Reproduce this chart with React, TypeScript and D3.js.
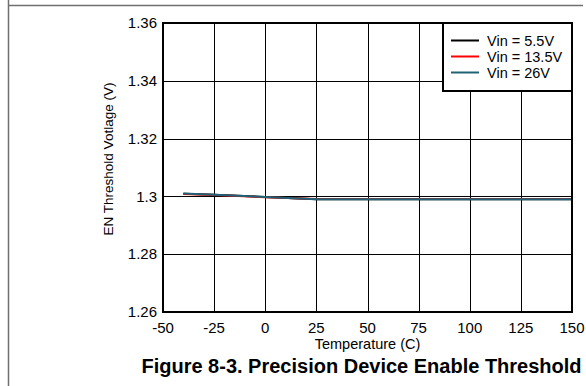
import React, {useEffect, useRef} from "react";
import * as d3 from "d3";

// temperature points (C)
const temps = [-40, -25, 0, 25, 50, 75, 100, 125, 150];
// EN threshold (V) for each input voltage
const vin55 = [1.3009, 1.3006, 1.2998, 1.2990, 1.2990, 1.2990, 1.2990, 1.2990, 1.2990];
const vin135 = [1.3008, 1.3005, 1.2997, 1.2991, 1.2991, 1.2991, 1.2991, 1.2991, 1.2991];
const vin26 = [1.3010, 1.3006, 1.2998, 1.2990, 1.2990, 1.2990, 1.2990, 1.2990, 1.2990];
const seriesNames = ["Vin = 5.5V", "Vin = 13.5V", "Vin = 26V"];
const seriesColors = ["#000000", "#ff0000", "#1f6275"];
const xTicks = [-50, -25, 0, 25, 50, 75, 100, 125, 150];
const yTicks = [1.26, 1.28, 1.3, 1.32, 1.34, 1.36];

export default function App() {
  const ref = useRef<SVGSVGElement>(null);
  const width = 586;
  const height = 386;
  const left = 163, right = 572, top = 23, bottom = 312;
  const font = "Liberation Sans, Arial, Helvetica, sans-serif";

  useEffect(() => {
    const svg = d3.select(ref.current);
    svg.selectAll("*").remove();

    const x = d3.scaleLinear().domain([-50, 150]).range([left, right]);
    const y = d3.scaleLinear().domain([1.26, 1.36]).range([bottom, top]);

    // page frame
    svg.append("line").attr("x1", 8.5).attr("x2", 8.5).attr("y1", 0).attr("y2", height)
      .attr("stroke", "#707070").attr("stroke-width", 1.5);
    svg.append("line").attr("x1", 8).attr("x2", 583).attr("y1", 5.5).attr("y2", 5.5)
      .attr("stroke", "#707070").attr("stroke-width", 1.5);

    // grid
    const grid = svg.append("g").attr("stroke", "#000").attr("stroke-width", 1);
    grid.selectAll(".gx").data(xTicks.slice(1, -1)).join("line")
      .attr("x1", d => Math.round(x(d)) + 0.5).attr("x2", d => Math.round(x(d)) + 0.5)
      .attr("y1", top).attr("y2", bottom);
    grid.selectAll(".gy").data(yTicks.slice(1, -1)).join("line")
      .attr("y1", d => Math.round(y(d)) + 0.5).attr("y2", d => Math.round(y(d)) + 0.5)
      .attr("x1", left).attr("x2", right);

    // lines
    const all = [vin55, vin135, vin26];
    const line = d3.line<number>()
      .x((d, i) => x(temps[i]))
      .y(d => y(d));
    svg.append("g").selectAll("path").data(all).join("path")
      .attr("d", d => line(d))
      .attr("fill", "none")
      .attr("stroke", (d, i) => seriesColors[i])
      .attr("stroke-width", 2);

    // legend
    const lgLeft = 443, lgBottom = 91;
    svg.append("rect").attr("x", lgLeft).attr("y", top).attr("width", right - lgLeft).attr("height", lgBottom - top)
      .attr("fill", "#fff").attr("stroke", "#000").attr("stroke-width", 2);
    const lg = svg.append("g").selectAll("g").data(seriesNames).join("g")
      .attr("transform", (d, i) => `translate(0,${40.5 + i * 16})`);
    lg.append("line").attr("x1", 451).attr("x2", 479).attr("y1", 0).attr("y2", 0)
      .attr("stroke", (d, i) => seriesColors[i]).attr("stroke-width", 2);
    lg.append("text").attr("x", 487).attr("dy", "0.35em")
      .attr("font-family", font).attr("font-size", 14.5).text(d => d);

    // plot border
    svg.append("rect").attr("x", left).attr("y", top).attr("width", right - left).attr("height", bottom - top)
      .attr("fill", "none").attr("stroke", "#000").attr("stroke-width", 2);

    // tick labels
    svg.append("g").selectAll("text").data(xTicks).join("text")
      .attr("x", d => x(d)).attr("y", 333)
      .attr("text-anchor", "middle")
      .attr("font-family", font).attr("font-size", 15)
      .text(d => d);
    svg.append("g").selectAll("text").data(yTicks).join("text")
      .attr("x", 157).attr("y", d => y(d)).attr("dy", "0.35em")
      .attr("text-anchor", "end")
      .attr("font-family", font).attr("font-size", 15)
      .text(d => d3.format("~g")(d));

    // axis titles
    svg.append("text").attr("x", (left + right) / 2).attr("y", 348.5)
      .attr("text-anchor", "middle").attr("font-family", font).attr("font-size", 14.5)
      .text("Temperature (C)");
    svg.append("text").attr("transform", `translate(113,159) rotate(-90)`)
      .attr("text-anchor", "middle").attr("font-family", font).attr("font-size", 13.5)
      .text("EN Threshold Votlage (V)");

    // figure caption
    svg.append("text").attr("x", 361.5).attr("y", 373)
      .attr("text-anchor", "middle").attr("font-family", font).attr("font-size", 20)
      .attr("font-weight", "bold")
      .text("Figure 8-3. Precision Device Enable Threshold");
  }, []);

  return (
    <svg ref={ref} width={width} height={height}
      style={{position: "absolute", left: 0, top: 0, background: "#fff"}}/>
  );
}
